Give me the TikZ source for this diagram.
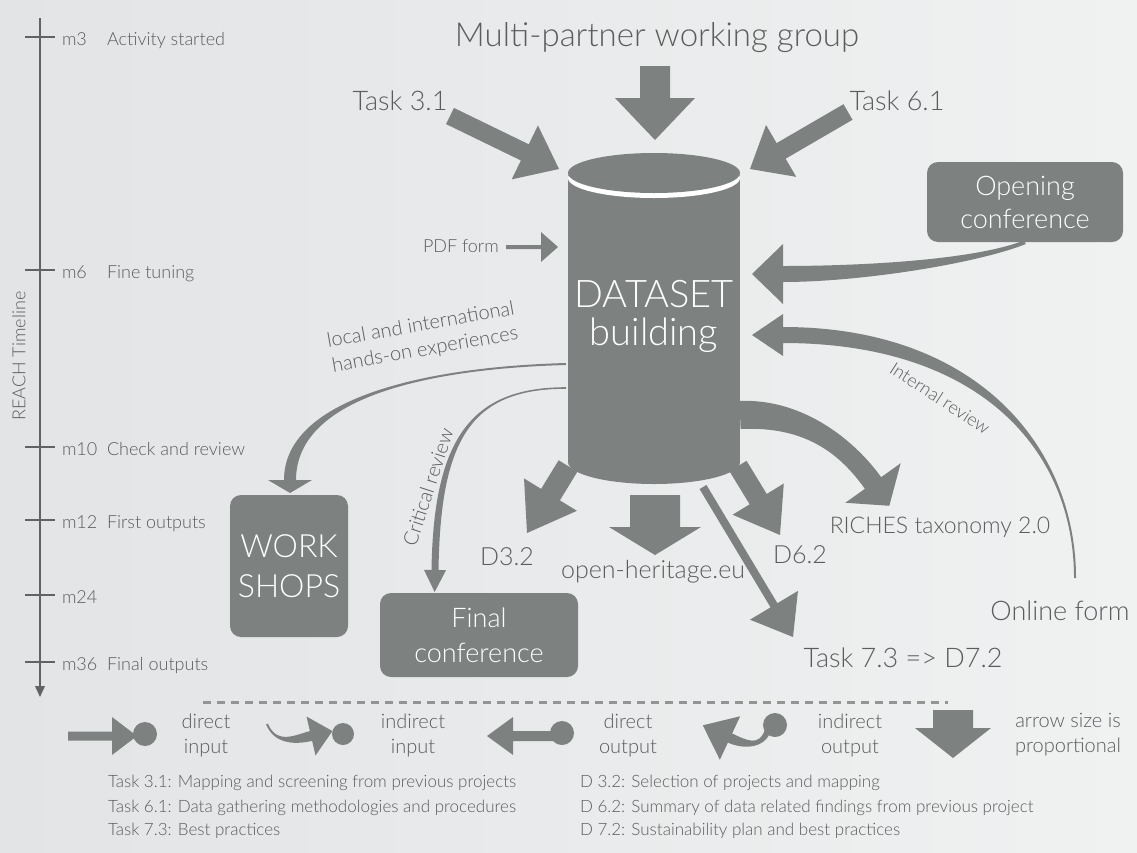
\documentclass[tikz,border=0pt]{standalone}
\usepackage{fontspec}
\setmainfont{Lato Light}
\usetikzlibrary{calc}
\definecolor{bgL}{HTML}{E2E4E6}
\definecolor{bgR}{HTML}{F0F1F1}
\definecolor{afill}{HTML}{7D8280}
\definecolor{tcol}{HTML}{5A5C5D}
\definecolor{tlc}{HTML}{606264}
\newcommand\fsz[2]{\fontsize{#1}{#2}\selectfont}
% straight block arrow: prefix, start, tip, half shaft, half head width, head length
\newcommand\sarr[6]{%
  \coordinate (#1s) at #2; \coordinate (#1t) at #3;
  \coordinate (#1b) at ($(#1t)!#6!(#1s)$);
  \fill[afill] ($(#1s)!#4!90:(#1t)$) -- ($(#1b)!#4!-90:(#1s)$) -- ($(#1b)!#5!-90:(#1s)$) -- (#1t)
    -- ($(#1b)!#5!90:(#1s)$) -- ($(#1b)!#4!90:(#1s)$) -- ($(#1s)!#4!-90:(#1t)$) -- cycle;
}
% tapered curved arrow: prefix, P0, P1, P2, P3, half w0, half w1, half head width, head length
\newcommand\taperarrow[9]{%
  \coordinate (#1a) at #2; \coordinate (#1b) at #3; \coordinate (#1c) at #4; \coordinate (#1d) at #5;
  \coordinate (#1ap) at ($(#1a)!#6!90:(#1b)$);
  \coordinate (#1am) at ($(#1a)!#6!-90:(#1b)$);
  \coordinate (#1dp) at ($(#1d)!#7!-90:(#1c)$);
  \coordinate (#1dm) at ($(#1d)!#7!90:(#1c)$);
  \coordinate (#1bp) at ($(#1b)+(#1ap)-(#1a)$);
  \coordinate (#1bm) at ($(#1b)+(#1am)-(#1a)$);
  \coordinate (#1cp) at ($(#1c)+(#1dp)-(#1d)$);
  \coordinate (#1cm) at ($(#1c)+(#1dm)-(#1d)$);
  \coordinate (#1hp) at ($(#1d)!#8!-90:(#1c)$);
  \coordinate (#1hm) at ($(#1d)!#8!90:(#1c)$);
  \coordinate (#1t) at ($(#1d)!-#9!(#1c)$);
  \fill[afill] (#1ap) .. controls (#1bp) and (#1cp) .. (#1dp) -- (#1hp) -- (#1t) -- (#1hm) -- (#1dm)
    .. controls (#1cm) and (#1bm) .. (#1am) -- cycle;
}
\begin{document}
\begin{tikzpicture}[x=1pt,y=-1pt,
  lbl/.style={text=tcol, inner sep=0pt, outer sep=0pt},
  box/.style={fill=afill, rounded corners=11pt, text=white, align=center, inner sep=0pt},
  tick/.style={draw=tlc, line width=2.6pt}]
\shade[left color=bgL, right color=bgR] (0,0) rectangle (1137,852);
\useasboundingbox (0,0) rectangle (1137,852);

% timeline
\draw[tick] (40,18) -- (40,688);
\fill[tlc] (35,686) -- (45,686) -- (40,697) -- cycle;
\foreach \yy/\mm/\dd in {37/m3/Activity started, 270/m6/Fine tuning, 447/m10/Check and review, 520/m12/First outputs, 595/m24/, 662/m36/Final outputs}{
  \draw[tick] (25,\yy) -- (55,\yy);
  \node[lbl, anchor=base west, font=\fsz{18}{18}] (m\mm) at (62,\yy+8) {\mm};
  \node[lbl, anchor=base west, font=\fsz{18}{18}] (d\mm) at (107,\yy+8) {\dd};
}
\node[lbl, rotate=90, font=\fsz{18}{18}] (rt) at (19,356) {REACH Timeline};

% boxes
\node[box, minimum width=196pt, minimum height=80pt, font=\fsz{27}{33}] (oc) at (1025,202) {Opening\\conference};
\node[box, minimum width=118pt, minimum height=142pt, font=\fsz{32}{40}] (ws) at (289,566) {WORK\\SHOPS};
\node[box, minimum width=198pt, minimum height=84pt, font=\fsz{27}{35}] (fc) at (479,635) {Final\\conference};

% straight arrows
\sarr{mp}{(655,66)}{(655,140)}{15pt}{40pt}{42pt}
\sarr{ta}{(450,116)}{(559,169)}{9pt}{30pt}{38pt}
\sarr{tb}{(848,112)}{(750,169)}{9pt}{30pt}{36pt}
\sarr{pf}{(506,247)}{(558,247)}{2pt}{15pt}{17pt}
\sarr{da}{(568,466)}{(527,533)}{11pt}{31pt}{45pt}
\sarr{oh}{(655,495)}{(655,555)}{25pt}{46pt}{28pt}
\sarr{db}{(738,466)}{(780,535)}{10pt}{30pt}{42pt}
\sarr{tc}{(703,487)}{(793,637)}{4pt}{28pt}{37pt}

% curved arrows
\taperarrow{oa}{(oc.south)}{(975,262)}{(860,274)}{(783,274)}{2pt}{8pt}{30pt}{31pt}
\taperarrow{ia}{(1075,578)}{(1075,450)}{(980,335)}{(783,335)}{1pt}{8pt}{21pt}{31pt}
\taperarrow{la}{(566,364)}{(420,368)}{(290,400)}{(290,480)}{1pt}{6pt}{22pt}{13pt}
\taperarrow{ca}{(566,388)}{(470,388)}{(437,440)}{(435,570)}{0.8pt}{3.5pt}{11pt}{22pt}
\taperarrow{ra}{(740,415)}{(805,412)}{(848,448)}{(873,483)}{14pt}{10pt}{34pt}{28pt}

% cylinder
\fill[afill] (568,175) rectangle (740,462);
\fill[afill] (654,462) ellipse [x radius=86, y radius=22];
\fill[white] (654,178) ellipse [x radius=86, y radius=20];
\fill[afill] (654,173) ellipse [x radius=86, y radius=20];
\node[lbl, text=white, anchor=base, font=\fsz{38}{38}] (dsA) at (654,307) {DATASET};
\node[lbl, text=white, anchor=base, font=\fsz{38}{38}] (dsB) at (654,345) {building};

% labels
\node[lbl, anchor=base, font=\fsz{33}{33}] (title) at (657,46) {Multi-partner working group};
\node[lbl, anchor=base, font=\fsz{27}{27}] (t31) at (400,110) {Task 3.1};
\node[lbl, anchor=base, font=\fsz{27}{27}] (t61) at (897,110) {Task 6.1};
\node[lbl, anchor=base west, font=\fsz{18}{18}] (pdf) at (423,252) {PDF form};
\node[lbl, rotate=10, align=center, font=\fsz{20}{25}] (loc) at (423,338) {local and international\\hands-on experiences};
\node[lbl, rotate=72, font=\fsz{20}{20}] (crit) at (428,487) {Critical review};
\node[lbl, rotate=-33, font=\fsz{18}{18}] (intr) at (940,398) {Internal review};
\node[lbl, anchor=base, font=\fsz{25}{25}] (d32) at (507,565) {D3.2};
\node[lbl, anchor=base, font=\fsz{25}{25}] (ohl) at (653,578) {open-heritage.eu};
\node[lbl, anchor=base, font=\fsz{25}{25}] (d62) at (800,563) {D6.2};
\node[lbl, anchor=base, font=\fsz{23}{23}] (rich) at (940,533) {RICHES taxonomy 2.0};
\node[lbl, anchor=base, font=\fsz{27}{27}] (of) at (1060,620) {Online form};
\node[lbl, anchor=base, font=\fsz{27}{27}] (t73) at (903,667) {Task 7.3 => D7.2};

% legend
\draw[afill!85!white, line width=3pt, dash pattern=on 8pt off 6pt] (203,702) -- (948,702);
\sarr{lga}{(68,736)}{(137,736)}{4.5pt}{19pt}{25pt}
\fill[afill] (145,734) circle (12pt);
\taperarrow{lgb}{(267,724)}{(276,746)}{(298,739)}{(311,736)}{1pt}{5pt}{20pt}{22pt}
\fill[afill] (343,734) circle (11pt);
\sarr{lgc}{(562,736)}{(487,736)}{5pt}{19pt}{26pt}
\fill[afill] (562,733) circle (12pt);
\taperarrow{lgd}{(768,730)}{(762,748)}{(745,745)}{(730,738)}{3pt}{5pt}{24pt}{30pt}
\fill[afill] (775,725) circle (12pt);
\sarr{lge}{(953,710)}{(953,758)}{20pt}{38pt}{30pt}

\node[lbl, align=center, font=\fsz{20}{25}] (lg1) at (206,735) {direct\\input};
\node[lbl, align=center, font=\fsz{20}{25}] (lg2) at (413,735) {indirect\\input};
\node[lbl, align=center, font=\fsz{20}{25}] (lg3) at (628,735) {direct\\output};
\node[lbl, align=center, font=\fsz{20}{25}] (lg4) at (850,735) {indirect\\output};
\node[lbl, align=center, font=\fsz{20}{25}] (lg5) at (1068,735) {arrow size is\\proportional};

\node[lbl, anchor=base west, font=\fsz{17}{17}] (ka) at (108,787) {Task 3.1: Mapping and screening from previous projects};
\node[lbl, anchor=base west, font=\fsz{17}{17}] (kb) at (108,812) {Task 6.1: Data gathering methodologies and procedures};
\node[lbl, anchor=base west, font=\fsz{17}{17}] (kc) at (108,835) {Task 7.3: Best practices};
\node[lbl, anchor=base west, font=\fsz{17}{17}] (kd) at (580,787) {D 3.2: Selection of projects and mapping};
\node[lbl, anchor=base west, font=\fsz{17}{17}] (ke) at (580,812) {D 6.2: Summary of data related findings from previous project};
\node[lbl, anchor=base west, font=\fsz{17}{17}] (kf) at (580,835) {D 7.2: Sustainability plan and best practices};
\end{tikzpicture}
\end{document}
